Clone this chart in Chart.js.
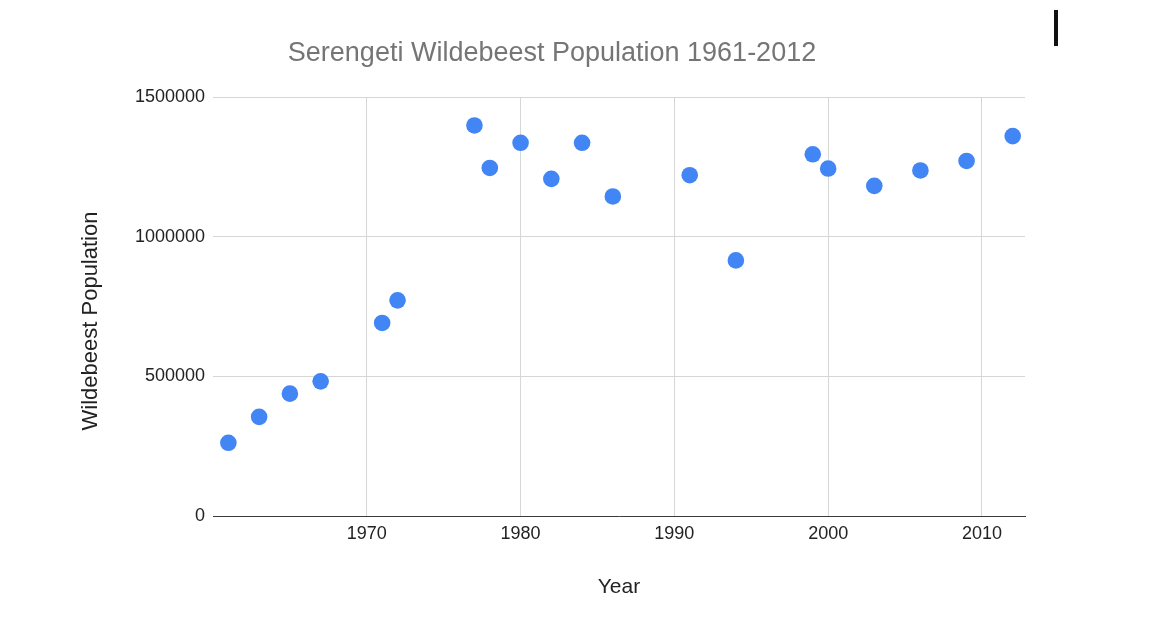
<!DOCTYPE html>
<html>
<head>
<meta charset="utf-8">
<title>Serengeti Wildebeest Population 1961-2012</title>
<script src="https://cdn.jsdelivr.net/npm/chart.js@4.4.1/dist/chart.umd.min.js"></script>
<style>
  html, body { margin: 0; padding: 0; background: #fff; }
  #wrap { position: relative; width: 1172px; height: 622px; }
  #cursor { position: absolute; left: 1054px; top: 10px; width: 4px; height: 36px; background: #111; }
</style>
</head>
<body>
<div id="wrap">
  <canvas id="wildebeest-chart"></canvas>
  <div id="cursor"></div>
</div>
<script>
// Survey years and estimated populations
const years = [1961, 1963, 1965, 1967, 1971, 1972, 1977, 1978, 1980, 1982,
               1984, 1986, 1991, 1994, 1999, 2000, 2003, 2006, 2009, 2012];
const population = [262000, 355000, 438000, 482000, 691000, 772000, 1398000, 1246000, 1336000, 1207000,
                    1336000, 1144000, 1220000, 915000, 1295000, 1244000, 1182000, 1237000, 1271000, 1360000];
const yearTicks = [1970, 1980, 1990, 2000, 2010];
const popTicks = [0, 500000, 1000000, 1500000];

const chartTitle = 'Serengeti Wildebeest Population 1961-2012';
const xTitle = 'Year';
const yTitle = 'Wildebeest Population';

const FONT = '"Liberation Sans", Arial, sans-serif';

// Chart title and rotated y-axis title, placed like the Sheets export
const titlesPlugin = {
    id: 'titles',
    afterDraw: function(chart) {
        const ctx = chart.ctx;
        ctx.save();
        ctx.fillStyle = '#757575';
        ctx.font = '27px ' + FONT;
        ctx.textAlign = 'center';
        ctx.textBaseline = 'middle';
        ctx.fillText(chartTitle, 552, 54);

        ctx.fillStyle = '#222';
        ctx.font = '22px ' + FONT;
        ctx.translate(91, 321);
        ctx.rotate(-Math.PI / 2);
        ctx.fillText(yTitle, 0, 0);
        ctx.restore();
    }
};

const ctx = document.getElementById('wildebeest-chart').getContext('2d');
new Chart(ctx, {
    type: 'scatter',
    data: {
        datasets: [{
            label: 'Wildebeest Population',
            data: years.map(function(y, i) { return { x: y, y: population[i] }; }),
            backgroundColor: '#4285F4',
            borderWidth: 0,
            pointRadius: 8.3,
            pointHoverRadius: 8.3
        }]
    },
    options: {
        responsive: true,
        maintainAspectRatio: false,
        animation: false,
        layout: {
            padding: { left: 0, right: 147, top: 97, bottom: 22 }
        },
        plugins: {
            legend: { display: false },
            tooltip: { enabled: false }
        },
        scales: {
            x: {
                type: 'linear',
                min: 1960,
                max: 2012.8,
                afterBuildTicks: function(scale) {
                    scale.ticks = yearTicks.map(function(v) { return { value: v }; });
                },
                afterFit: function(scale) {
                    scale.height = 84;
                },
                grid: {
                    color: '#d6d6d6',
                    drawTicks: false
                },
                border: { display: true, color: '#3c3c3c', width: 1 },
                ticks: {
                    padding: 7,
                    color: '#222',
                    font: { family: FONT, size: 18 },
                    callback: function(v) { return String(v); }
                },
                title: {
                    display: true,
                    text: xTitle,
                    color: '#222',
                    padding: 0,
                    font: { family: FONT, size: 21 }
                }
            },
            y: {
                min: 0,
                max: 1500000,
                afterBuildTicks: function(scale) {
                    scale.ticks = popTicks.map(function(v) { return { value: v }; });
                },
                afterFit: function(scale) {
                    scale.width = 213;
                },
                grid: {
                    color: '#d6d6d6',
                    drawTicks: false
                },
                border: { display: false },
                ticks: {
                    padding: 8,
                    color: '#222',
                    font: { family: FONT, size: 18 },
                    callback: function(v) { return String(v); }
                }
            }
        }
    },
    plugins: [titlesPlugin]
});
</script>
</body>
</html>
